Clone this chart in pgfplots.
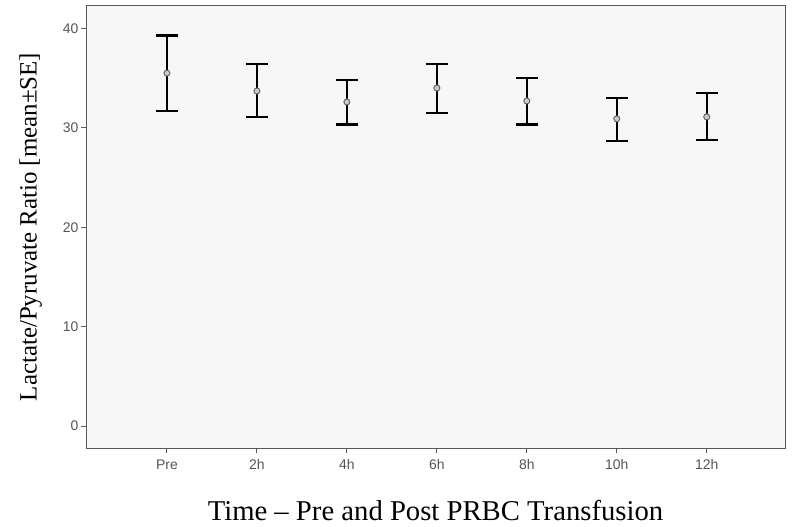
\documentclass[border=0pt]{standalone}
\usepackage{fontspec}
\setmainfont{Liberation Serif}
\newfontfamily\arialfont{Liberation Sans}
\usepackage{pgfplots}
\pgfplotsset{compat=1.18}
\definecolor{plotbg}{RGB}{247,247,247}
\definecolor{tickgray}{RGB}{85,85,85}

\begin{document}
\begin{tikzpicture}[x=1bp,y=1bp]
  \useasboundingbox (-86bp,-79bp) rectangle (706bp,448bp);
  \begin{axis}[
      scale only axis,
      width=699bp, height=442bp,
      xmin=-0.9, xmax=6.87,
      ymin=-2.2, ymax=42.25,
      axis background/.style={fill=plotbg},
      axis line style={draw=black!65, line width=1pt},
      xtick=data,
      xticklabels={Pre,2h,4h,6h,8h,10h,12h},
      ytick={0,10,20,30,40},
      tick align=outside,
      tick pos=left,
      major tick length=5bp,
      tick style={draw=black!65, line width=1pt},
      /pgf/number format/assume math mode=true,
      ticklabel style={font=\arialfont\fontsize{14}{16}\selectfont, text=tickgray},
      xticklabel style={yshift=-3bp},
      yticklabel style={xshift=1bp},
      xlabel={Time -- Pre and Post PRBC Transfusion},
      ylabel={Lactate/Pyruvate Ratio [mean±SE]},
      xlabel style={font=\fontsize{28.8}{33}\selectfont, at={(axis description cs:0.5,0)}, anchor=base, yshift=-72bp},
      ylabel style={font=\fontsize{25}{30}\selectfont, at={(axis description cs:-0.079,0.5)}, anchor=center},
    ]
    \addplot[
      only marks,
      mark=*,
      mark size=3bp,
      mark options={draw=black!60, fill=black!20, line width=1pt},
      error bars/.cd,
        y dir=both, y explicit,
        error bar style={line width=1.6bp, black},
        error mark options={rotate=90, mark size=11bp, line width=2.4bp, black},
    ] coordinates {
      (0,35.5) += (0,3.8) -= (0,3.8)
      (1,33.7) += (0,2.7) -= (0,2.6)
      (2,32.6) += (0,2.2) -= (0,2.25)
      (3,34.0) += (0,2.4) -= (0,2.5)
      (4,32.7) += (0,2.3) -= (0,2.35)
      (5,30.9) += (0,2.1) -= (0,2.2)
      (6,31.1) += (0,2.4) -= (0,2.3)
    };
  \end{axis}
\end{tikzpicture}
\end{document}
